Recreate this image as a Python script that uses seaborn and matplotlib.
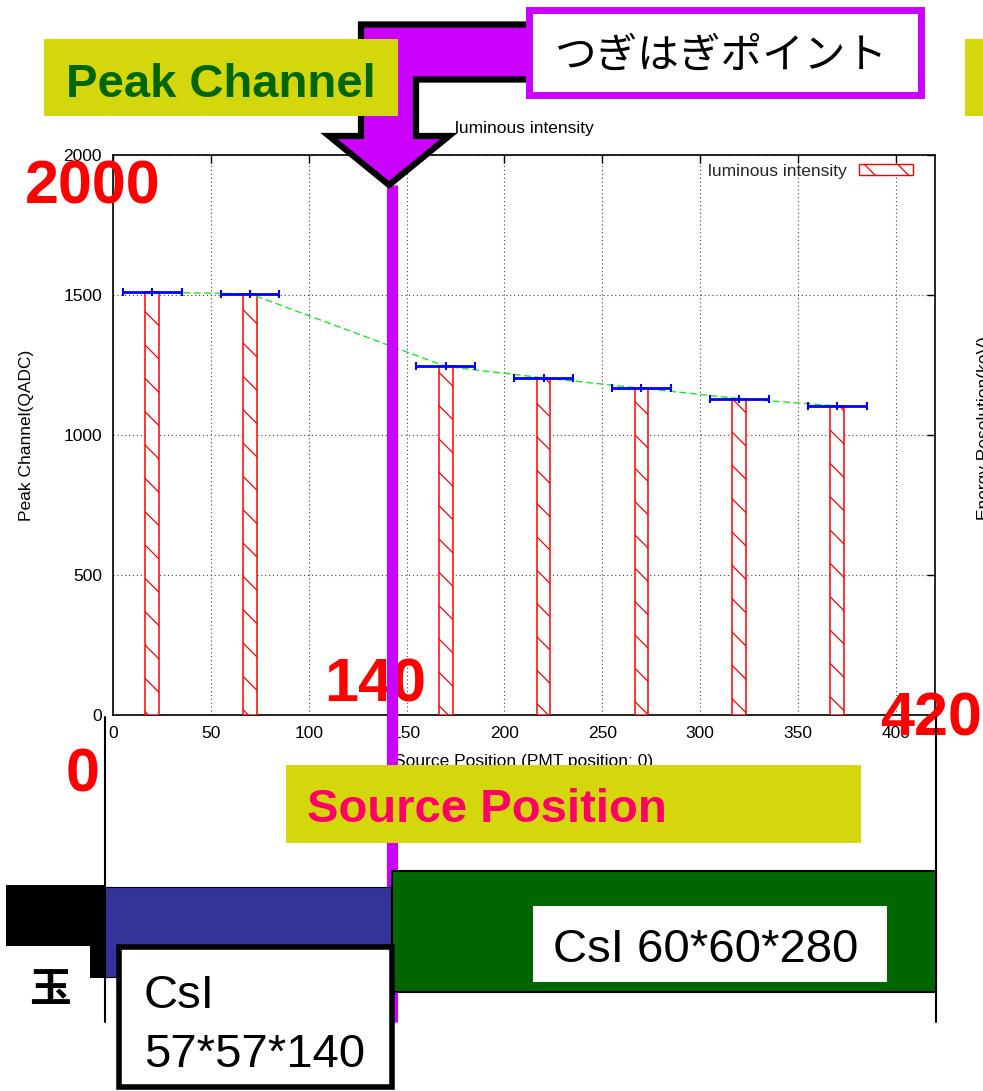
import matplotlib
matplotlib.use("Agg")
import matplotlib.pyplot as plt
import pandas as pd
import seaborn as sns
from matplotlib.patches import Rectangle, Polygon

# ---------------- data ----------------
positions = [20, 70, 170, 220, 270, 320, 370]
peak_channel = [1510, 1504, 1245, 1204, 1167, 1130, 1104]
position_error = [15, 15, 15, 15, 15, 15, 15]
x_ticks = [0, 50, 100, 150, 200, 250, 300, 350, 400]
y_ticks = [0, 500, 1000, 1500, 2000]
series_label = "luminous intensity"

# ---------------- style ----------------
sns.set_theme(style="white")
plt.rcParams["font.family"] = ["Liberation Sans", "Noto Sans CJK JP", "DejaVu Sans"]
plt.rcParams["hatch.color"] = "#FF0000"
plt.rcParams["hatch.linewidth"] = 0.9

W, H = 983, 1091
fig = plt.figure(figsize=(W / 100, H / 100), dpi=100)
fig.patch.set_facecolor("white")


def fx(px):
    return px / W


def fy(py):
    return 1 - py / H


FS = 12.5
ax = fig.add_axes([fx(113), fy(715), (935 - 113) / W, (715 - 155) / H], zorder=1)
ax.set_facecolor("white")

df = pd.DataFrame({"pos": positions, "peak": peak_channel, "err": position_error})

sns.barplot(data=df, x="pos", y="peak", native_scale=True, width=0.14,
            color="white", edgecolor="#FF0000", linewidth=1.1, hatch="\\",
            errorbar=None, saturation=1, ax=ax, zorder=3)
sns.lineplot(data=df, x="pos", y="peak", color="#22E622", linewidth=1.0,
             linestyle=(0, (5, 2.5)), ax=ax, zorder=4)
ax.errorbar(df["pos"], df["peak"], xerr=df["err"], fmt="|", color="#0000FF",
            ms=5.5, mew=1.5, elinewidth=2.0, capsize=2.6, capthick=1.5, zorder=5)

ax.set_xlim(0, 420)
ax.set_ylim(0, 2000)
ax.set_xticks(x_ticks)
ax.set_yticks(y_ticks)
ax.set_xticklabels([str(t) for t in x_ticks])
ax.set_yticklabels([str(t) for t in y_ticks])
ax.set_axisbelow(True)
ax.grid(True, linestyle=(0, (1, 2.5)), color="#444444", linewidth=0.8)
for s in ax.spines.values():
    s.set_visible(True)
    s.set_color("black")
    s.set_linewidth(1.2)
ax.tick_params(direction="in", top=True, right=True, length=5.5, width=1.0,
               labelsize=FS, pad=8, colors="black")
ax.set_ylabel("Peak Channel(QADC)", fontsize=FS, color="black")
ax.yaxis.set_label_coords((34 - 113) / 822, 0.5)
ax.set_xlabel("Source Position (PMT position: 0)", fontsize=FS, color="black")
ax.xaxis.set_label_coords(0.5, (715 - 754) / 560)

leg_handle = Rectangle((0, 0), 1, 1, facecolor="white", edgecolor="#FF0000",
                       hatch="\\", linewidth=1.0)
ax.legend(handles=[leg_handle], labels=[series_label], loc="upper right",
          bbox_to_anchor=((913 - 113) / 822, (715 - 164) / 560),
          markerfirst=False, frameon=False, fontsize=FS, handlelength=3.1,
          handleheight=0.6, handletextpad=0.7, borderpad=0, borderaxespad=0)

# plot title (drawn above the overlay)
fig.text(fx(524), fy(128), series_label, ha="center", va="center",
         fontsize=FS, color="black", zorder=10)

# ---------------- overlay (slide annotations) ----------------
ov = fig.add_axes([0, 0, 1, 1], zorder=5)
ov.set_xlim(0, W)
ov.set_ylim(H, 0)
ov.axis("off")
ov.patch.set_alpha(0)

YEL = "#D4D70C"
PURP = "#CC00FF"
RED = "#FF0000"


def rect(x0, y0, x1, y1, **kw):
    ov.add_patch(Rectangle((x0, y0), x1 - x0, y1 - y0, **kw))


# red big numbers
for txt, xx, yy in [("2000", 25, 203), ("140", 324, 702), ("420", 880, 735), ("0", 66, 792)]:
    ov.text(xx, yy, txt, color=RED, fontsize=44, fontweight="bold",
            ha="left", va="baseline", zorder=1.5)

# black guide lines
ov.plot([105, 105], [717, 1022], color="black", lw=1.5, zorder=1.8)
ov.plot([936, 936], [717, 1022], color="black", lw=1.5, zorder=1.8)

# purple vertical line (joint point)
ov.plot([391.5, 391.5], [185, 1022], color=PURP, lw=8.0,
        solid_capstyle="butt", zorder=2)

# detector blocks
rect(6, 885, 105, 978, facecolor="black", edgecolor="none", zorder=3)
rect(6, 946, 90, 1022, facecolor="white", edgecolor="none", zorder=3.2)
ov.text(50, 990, "玉", fontsize=30, fontweight="bold", color="black",
        family=["Noto Sans CJK JP", "DejaVu Sans"], ha="center", va="center",
        zorder=3.3)
rect(105, 887, 392, 977, facecolor="#333399", edgecolor="black", lw=0.8, zorder=3)
rect(392, 871, 936, 992, facecolor="#006600", edgecolor="black", lw=1.5, zorder=3)
rect(533, 906, 887, 982, facecolor="white", edgecolor="none", zorder=4)
ov.text(553, 962, "CsI 60*60*280", fontsize=34, color="black",
        ha="left", va="baseline", zorder=4.5)
rect(119, 947, 392, 1087, facecolor="white", edgecolor="black", lw=4, zorder=4)
ov.text(144, 1008, "CsI", fontsize=34, color="black", ha="left",
        va="baseline", zorder=4.5)
ov.text(144, 1067, "57*57*140", fontsize=34, color="black", ha="left",
        va="baseline", zorder=4.5)

# Source Position box
rect(286, 765, 861, 843, facecolor=YEL, edgecolor="none", zorder=6)
ov.text(307, 822, "Source Position", color="#FF0066", fontsize=34,
        fontweight="bold", ha="left", va="baseline", zorder=6.5)

# bent arrow
arrow_pts = [(540, 24.5), (361, 24.5), (361, 136), (329, 136), (389, 185),
             (449, 136), (416, 136), (416, 79.5), (540, 79.5)]
ov.add_patch(Polygon(arrow_pts, closed=True, facecolor=PURP, edgecolor="black",
                     lw=4.5, joinstyle="miter", zorder=6))

# Peak Channel label
rect(44, 39, 398, 116, facecolor=YEL, edgecolor="none", zorder=7)
rect(965, 39, 995, 116, facecolor=YEL, edgecolor="none", zorder=7)
ov.text(66, 97, "Peak Channel", color="#006600", fontsize=34,
        fontweight="bold", ha="left", va="baseline", zorder=8)

# つぎはぎポイント box
rect(529, 9.5, 921, 94.5, facecolor="white", edgecolor=PURP, lw=5, zorder=7)
ov.text(721, 56, "つぎはぎポイント", fontsize=30, color="black",
        family=["Noto Sans CJK JP", "DejaVu Sans"], ha="center", va="center",
        zorder=8)

# cut-off label of the neighbouring chart
fig.text(fx(977), fy(428), "Energy Resolution(keV)", rotation=90, ha="left",
         va="center", fontsize=FS, color="black", zorder=10)

fig.savefig("out.png", dpi=100)
